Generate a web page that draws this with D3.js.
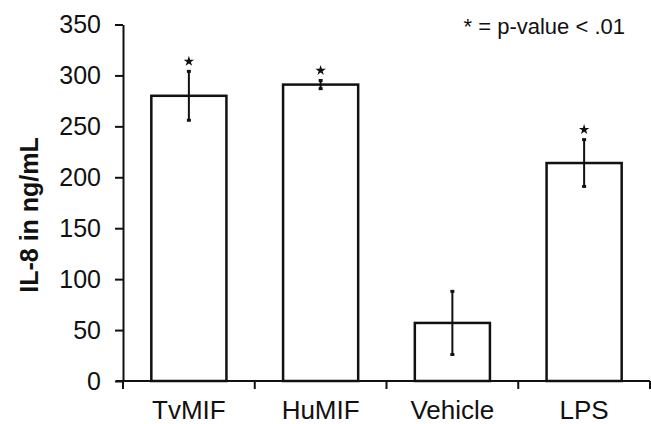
<!DOCTYPE html>
<html>
<head>
<meta charset="utf-8">
<script src="https://cdn.jsdelivr.net/npm/d3@7"></script>
<style>
  body { margin: 0; background: #fff; }
  svg { display: block; font-family: "Liberation Sans", Arial, sans-serif; }
</style>
</head>
<body>
<div id="chart"></div>
<script>
// data
var categories = ['TvMIF', 'HuMIF', 'Vehicle', 'LPS'];
var means = [280, 291, 57, 214];
var errors = [24, 4, 31, 23];
var significant = [true, true, false, true];
var yTicks = [0, 50, 100, 150, 200, 250, 300, 350];

var W = 651, H = 424;
var svg = d3.select('#chart').append('svg')
  .attr('width', W).attr('height', H);

var x = d3.scaleBand()
  .domain(categories)
  .range([123, 650])
  .paddingInner(0.43)
  .paddingOuter(0.215);

var y = d3.scaleLinear()
  .domain([0, 350])
  .range([381, 24.5]);

// bars
svg.append('g').selectAll('rect')
  .data(categories)
  .enter().append('rect')
  .attr('x', function(d){ return x(d); })
  .attr('y', function(d, i){ return y(means[i]); })
  .attr('width', x.bandwidth())
  .attr('height', function(d, i){ return y(0) - y(means[i]); })
  .style('fill', '#fff')
  .style('stroke', '#111')
  .style('stroke-width', 2.5);

// error bars
var eb = svg.append('g').selectAll('g')
  .data(categories)
  .enter().append('g');
eb.append('line')
  .attr('x1', function(d){ return x(d) + x.bandwidth()/2; })
  .attr('x2', function(d){ return x(d) + x.bandwidth()/2; })
  .attr('y1', function(d, i){ return y(means[i] + errors[i]); })
  .attr('y2', function(d, i){ return y(means[i] - errors[i]); })
  .style('stroke', '#111')
  .style('stroke-width', 2);
eb.each(function(d, i){
  var g = d3.select(this);
  [means[i] + errors[i], means[i] - errors[i]].forEach(function(v){
    g.append('line')
      .attr('x1', x(d) + x.bandwidth()/2 - 2)
      .attr('x2', x(d) + x.bandwidth()/2 + 2)
      .attr('y1', y(v)).attr('y2', y(v))
      .style('stroke', '#111')
      .style('stroke-width', 3);
  });
});

// significance stars
svg.append('g').selectAll('path')
  .data(categories.filter(function(d, i){ return significant[i]; }))
  .enter().append('path')
  .attr('d', d3.symbol().type(d3.symbolStar).size(34))
  .attr('transform', function(d){
    var i = categories.indexOf(d);
    return 'translate(' + (x(d) + x.bandwidth()/2) + ',' + (y(means[i] + errors[i]) - 10) + ')';
  })
  .style('fill', '#111');

// y axis
var yAxis = svg.append('g')
  .attr('transform', 'translate(123,0)')
  .call(d3.axisLeft(y).tickValues(yTicks).tickSize(8).tickPadding(14).tickSizeOuter(0));
yAxis.select('.domain').style('stroke', '#111').style('stroke-width', 2);
yAxis.selectAll('.tick line').style('stroke', '#111').style('stroke-width', 2);
yAxis.selectAll('.tick text')
  .style('font-size', '25px')
  .style('fill', '#111')
  .style('font-family', '"Liberation Sans", Arial, sans-serif');

// x axis: ticks at band boundaries
var xAxisG = svg.append('g').attr('transform', 'translate(0,381)');
xAxisG.append('line')
  .attr('x1', 116).attr('x2', 650)
  .style('stroke', '#111').style('stroke-width', 2);
var step = x.step();
var bounds = d3.range(categories.length + 1).map(function(k){ return 123 + k * step; });
xAxisG.selectAll('.xtick')
  .data(bounds)
  .enter().append('line')
  .attr('class', 'xtick')
  .attr('x1', function(d){ return d; })
  .attr('x2', function(d){ return d; })
  .attr('y1', 0).attr('y2', 8)
  .style('stroke', '#111').style('stroke-width', 2);
xAxisG.selectAll('.xlab')
  .data(categories)
  .enter().append('text')
  .attr('class', 'xlab')
  .attr('x', function(d){ return x(d) + x.bandwidth()/2; })
  .attr('y', 38)
  .attr('text-anchor', 'middle')
  .style('font-size', '26px')
  .style('fill', '#111')
  .text(function(d){ return d; });

// y axis title
svg.append('text')
  .attr('transform', 'translate(38,215) rotate(-90)')
  .attr('text-anchor', 'middle')
  .style('font-size', '25px')
  .style('font-weight', 'bold')
  .style('fill', '#111')
  .text('IL-8 in ng/mL');

// note
svg.append('text')
  .attr('x', 625).attr('y', 34)
  .attr('text-anchor', 'end')
  .style('font-size', '22px')
  .style('fill', '#111')
  .text('* = p-value < .01');
</script>
</body>
</html>
